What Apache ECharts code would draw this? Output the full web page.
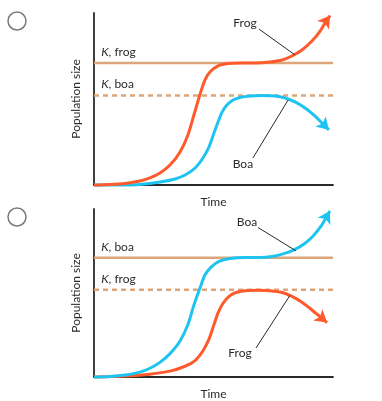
<!DOCTYPE html>
<html><head><meta charset="utf-8">
<script src="https://cdn.jsdelivr.net/npm/echarts@6/dist/echarts.min.js"></script>
<style>html,body{margin:0;padding:0;background:#fff}#c{width:382px;height:401px}</style>
</head><body><div id="c"></div>
<script>
// ---- Data (normalized time 0-100, population 0-100) ----
// Panel A (top): frog has higher K
const aFrogT = [0,6.7,13,19.2,23.4,27.6,31.8,36,39.3,41.8,44.4,46.4,48.5,51.9,56.1,61.1,67.4,73.6,78.7,82.8,87,91.2,94.6,97.1,98.8];
const aFrogN = [0,0.3,0.9,2.3,4.1,7,11.6,19.2,29.1,40.7,52.9,61,65.7,69.2,70.6,70.9,70.9,71.5,72.7,75,78.5,83.7,89.5,95.3,98.5];
const aBoaT  = [0,10.9,19.2,27.6,33.9,38.1,42.3,45.6,48.1,50.2,51.9,53.6,55.6,58.2,61.1,65.3,70.3,75.7,79.9,84.1,88.3,92.5,95.8,98.3];
const aBoaN  = [0,0,0.3,1.7,3.5,5.8,9.9,15.7,22.1,30.2,36.6,42.4,46.5,49.4,50.9,51.7,52,51.7,50.6,48.3,44.8,40.1,35.5,32];
const aK = [71, 52];            // K, frog (solid) ; K, boa (dashed)
const aKLabels = ['frog', 'boa'];
// Panel B (bottom): boa has higher K
const bBoaT  = [0,6.7,13,19.2,23.4,27.6,31.8,36,39.3,41.8,44.4,46.4,48.9,52.3,56.9,63.2,69.5,74.5,79.5,83.7,87.9,91.6,94.6,97.1,98.7];
const bBoaN  = [0,0.3,1.2,2.9,5.2,8.7,13.9,21.4,31.2,42.8,53.2,60.7,65.3,68.8,70.5,71.1,71.1,71.7,73.4,75.7,79.2,83.8,89,94.8,98.8];
const bFrogT = [0,13,23.4,31.8,38.1,42.3,45.6,48.1,50.2,51.9,54,56.5,59.4,63.2,68.6,73.6,78.7,82.8,87,91.2,94.6,97.5];
const bFrogN = [0,0.6,1.7,3.5,6.4,9.8,15.6,22.5,31.2,38.2,43.9,48,50.3,51.4,51.7,51.4,50.3,48,44.5,39.9,35.8,32.4];
const bK = [71, 52];            // K, boa (solid) ; K, frog (dashed)
const bKLabels = ['boa', 'frog'];
// Curve annotations: [text, textPos, lineStart, lineEnd]
const aNotes = [['Frog',[63.2,94.2],[69,90.7],[84.1,75.6]], ['Boa',[62.3,12.2],[66.5,15.7],[81.2,49.4]]];
const bNotes = [['Boa',[64,91.9],[68.6,89],[84.5,75.1]], ['Frog',[61.1,14.5],[67.8,17.3],[82,48.6]]];
const xName = 'Time', yName = 'Population size';

const ORANGE = '#ff5a2c', BLUE = '#1ec4f1', TAN = '#dca67a', INK = '#2a2a2a';
const FONT = 'Lato';

function zip(t, n){ return t.map((v,i)=>[v,n[i]]); }
function curve(t, n, color, g, rot){
  const d = zip(t,n), L = d.length;
  const data = d.map((p,i)=> i===L-1 ? {value:p, symbol:'arrow', symbolSize:[11,12], symbolRotate:rot||0,
      itemStyle:{color, borderWidth:0}} : {value:p, symbol:'none'});
  return {type:'line', xAxisIndex:g, yAxisIndex:g, data, smooth:0.3,
    showSymbol:true, symbol:'none', clip:false, silent:true,
    lineStyle:{color, width:3}, itemStyle:{color}, z:5};
}
function kLine(v, dashed, g){
  return {type:'line', xAxisIndex:g, yAxisIndex:g, data:[[0,v],[100,v]], symbol:'none', silent:true,
    lineStyle:{color:TAN, width:2.5, type: dashed ? [5,4] : 'solid'}, z:3};
}
function grid(top, h){ return {left:94, top:top, width:239, height:h}; }
function xAx(g){ return {type:'value', gridIndex:g, min:0, max:100, name:xName, nameLocation:'middle', nameGap:11,
  nameTextStyle:{color:INK, fontSize:12, fontFamily:FONT},
  axisLine:{show:true, lineStyle:{color:INK, width:1.8}}, axisTick:{show:false}, axisLabel:{show:false}, splitLine:{show:false}}; }
function yAx(g){ return {type:'value', gridIndex:g, min:0, max:100, name:yName, nameLocation:'middle', nameGap:12, nameRotate:90,
  nameTextStyle:{color:INK, fontSize:12, fontFamily:FONT},
  axisLine:{show:true, lineStyle:{color:INK, width:1.8}}, axisTick:{show:false}, axisLabel:{show:false}, splitLine:{show:false}}; }

const curveDefs = [[aBoaT,aBoaN,BLUE,0],[aFrogT,aFrogN,ORANGE,0],[bFrogT,bFrogN,ORANGE,1],[bBoaT,bBoaN,BLUE,1]];
function buildSeries(rots){
  return [
    kLine(aK[0], false, 0), kLine(aK[1], true, 0),
    curve(...curveDefs[0], rots[0]), curve(...curveDefs[1], rots[1]),
    kLine(bK[0], false, 1), kLine(bK[1], true, 1),
    curve(...curveDefs[2], rots[2]), curve(...curveDefs[3], rots[3])
  ];
}

const chart = echarts.init(document.getElementById('c'), null, {renderer:'canvas'});
chart.setOption({
  animation:false, backgroundColor:'#fff',
  grid:[grid(13,172), grid(209,173)],
  xAxis:[xAx(0), xAx(1)], yAxis:[yAx(0), yAx(1)],
  series: buildSeries([0,0,0,0])
});
// arrow heads follow the direction of the last segment
const rots = curveDefs.map(([t,n,,g])=>{
  const L = t.length;
  const p1 = chart.convertToPixel({gridIndex:g}, [t[L-2], n[L-2]]);
  const p2 = chart.convertToPixel({gridIndex:g}, [t[L-1], n[L-1]]);
  return Math.atan2(-(p2[0]-p1[0]), -(p2[1]-p1[1])) * 180 / Math.PI;
});
chart.setOption({series: buildSeries(rots)});

const gfx = [];
[[aK,aKLabels,aNotes],[bK,bKLabels,bNotes]].forEach(([ks, labs, notes], g)=>{
  ks.forEach((k,i)=>{
    const p = chart.convertToPixel({gridIndex:g}, [3, k]);
    gfx.push({type:'text', left:p[0], top:p[1]-17, silent:true,
      style:{rich:{i:{fontStyle:'italic', fontFamily:FONT, fontSize:12, fill:INK}, r:{fontFamily:FONT, fontSize:12, fill:INK}},
        text:'{i|K}{r|, '+labs[i]+'}', fill:INK}});
  });
  notes.forEach(([txt, tp, a, b])=>{
    const p = chart.convertToPixel({gridIndex:g}, tp);
    const pa = chart.convertToPixel({gridIndex:g}, a);
    const pb = chart.convertToPixel({gridIndex:g}, b);
    gfx.push({type:'text', x:p[0], y:p[1], silent:true,
      style:{text:txt, fontFamily:FONT, fontSize:12, fill:INK, align:'center', verticalAlign:'middle'}});
    gfx.push({type:'line', silent:true, z:10, shape:{x1:pa[0], y1:pa[1], x2:pb[0], y2:pb[1]},
      style:{stroke:INK, lineWidth:1}});
  });
  const c = chart.convertToPixel({gridIndex:g}, [0, 100]);
  gfx.push({type:'circle', silent:true, shape:{cx:17, cy:c[1]+8, r:9}, style:{fill:'#fff', stroke:'#7a7a7a', lineWidth:1.5}});
});
chart.setOption({graphic:gfx});
</script></body></html>
